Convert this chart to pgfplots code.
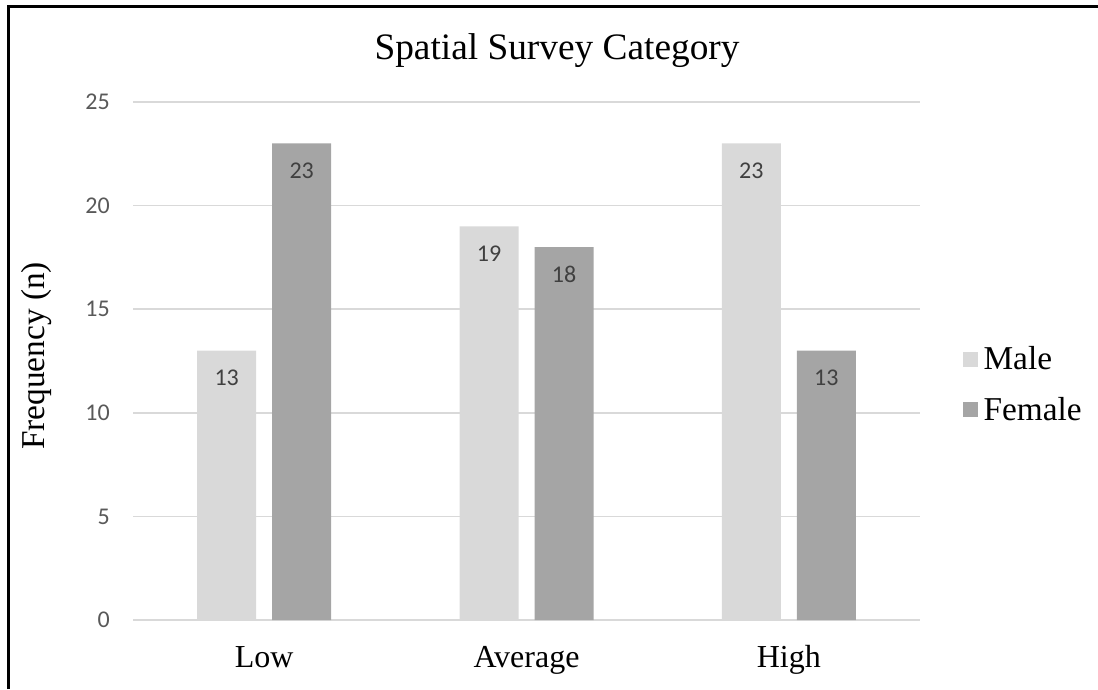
\documentclass[border=0pt]{standalone}
\usepackage{fontspec}
\usepackage{pgfplots}
\pgfplotsset{compat=1.18}
\setmainfont{Liberation Serif}
\newfontfamily\calibri{Carlito}

\definecolor{male}{HTML}{D9D9D9}
\definecolor{female}{HTML}{A5A5A5}
\definecolor{gridgray}{HTML}{D9D9D9}
\definecolor{ticktext}{HTML}{595959}
\definecolor{bartext}{HTML}{404040}

\begin{document}
\begin{tikzpicture}
    \useasboundingbox (0pt,0pt) rectangle (823.5pt,516.75pt);
    % frame (top and left edges show)
    \draw[line width=2.4pt] (6.4pt,0pt) -- (6.4pt,511.9pt) -- (823.5pt,511.9pt);

    \begin{axis}[
            at={(99.75pt,51.75pt)},
            anchor=south west,
            scale only axis,
            width=590.25pt,
            height=388.5pt,
            ybar=12pt,
            bar width=44.25pt,
            xmin=-0.5, xmax=2.5,
            ymin=0, ymax=25,
            xtick={0,1,2},
            xticklabels={Low,Average,High},
            ytick={0,5,...,25},
            axis line style={draw=none},
            major tick length=0pt,
            ymajorgrids,
            grid style={gridgray, line width=1.1pt},
            /pgf/number format/assume math mode=true,
            yticklabel style={font=\calibri\fontsize{18}{21}\selectfont,
                text=ticktext, xshift=-13.9pt},
            xticklabel style={font=\fontsize{24}{28}\selectfont,
                anchor=base, yshift=-35.25pt},
            ylabel={Frequency (n)},
            ylabel style={font=\fontsize{25}{29}\selectfont,
                at={(axis description cs:-0.122,0.51)}, anchor=center},
            nodes near coords,
            nodes near coords align={center},
            every node near coord/.append style={font=\calibri\fontsize{18}{21}\selectfont,
                text=bartext, yshift=-20.25pt},
            legend style={draw=none, fill=none,
                at={(axis description cs:1.0546,0.455)}, anchor=west,
                font=\fontsize{25}{29}\selectfont,
                row sep=15pt, column sep=2pt, inner sep=0pt,
                cells={anchor=west}},
            legend image code/.code={
                \fill[#1] (0pt,-5.6pt) rectangle (11.25pt,5.6pt);
            },
        ]
        \addplot[fill=male, draw=none] coordinates {(0,13) (1,19) (2,23)};
        \addplot[fill=female, draw=none] coordinates {(0,23) (1,18) (2,13)};
        \legend{Male,Female}
    \end{axis}

    \node[font=\fontsize{28}{33}\selectfont] at (417.75pt,478.5pt) {Spatial Survey Category};
\end{tikzpicture}
\end{document}
